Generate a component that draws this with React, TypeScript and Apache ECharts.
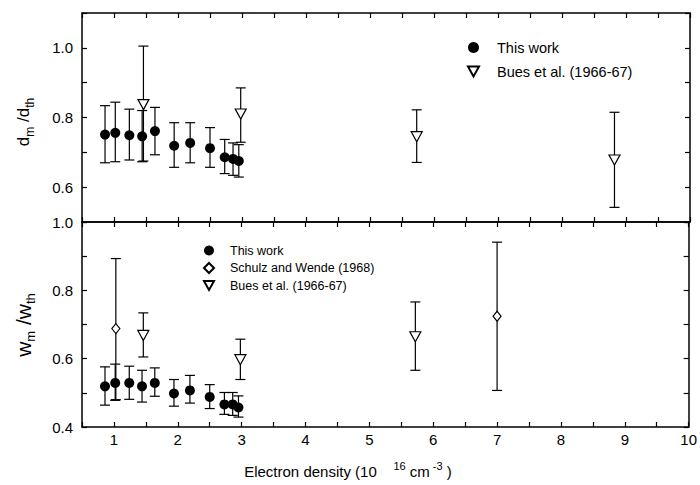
import React, { useEffect, useRef } from "react";
import * as echarts from "echarts";

// ---- data ----
const xThis = [0.86, 1.02, 1.24, 1.44, 1.64, 1.94, 2.19, 2.5, 2.73, 2.86, 2.95];
const dThis = [0.751, 0.756, 0.749, 0.746, 0.761, 0.719, 0.727, 0.712, 0.686, 0.681, 0.675];
const dThisHi = [0.834, 0.844, 0.824, 0.82, 0.829, 0.785, 0.785, 0.771, 0.737, 0.727, 0.722];
const dThisLo = [0.67, 0.673, 0.678, 0.673, 0.693, 0.657, 0.67, 0.657, 0.639, 0.634, 0.629];

const xBuesD = [1.46, 2.98, 5.73, 8.82];
const dBues = [0.837, 0.81, 0.745, 0.678];
const dBuesHi = [1.005, 0.885, 0.822, 0.815];
const dBuesLo = [0.675, 0.729, 0.671, 0.542];

const wThis = [0.519, 0.529, 0.529, 0.519, 0.529, 0.498, 0.507, 0.488, 0.466, 0.466, 0.457];
const wThisHi = [0.576, 0.584, 0.578, 0.566, 0.573, 0.539, 0.551, 0.524, 0.501, 0.501, 0.491];
const wThisLo = [0.464, 0.478, 0.481, 0.473, 0.49, 0.461, 0.47, 0.454, 0.437, 0.434, 0.429];

const xSchulz = [1.03, 7.0];
const wSchulz = [0.688, 0.724];
const wSchulzHi = [0.893, 0.941];
const wSchulzLo = [0.48, 0.507];

const xBuesW = [1.46, 2.98, 5.72];
const wBues = [0.668, 0.597, 0.664];
const wBuesHi = [0.734, 0.657, 0.766];
const wBuesLo = [0.605, 0.539, 0.566];

const NAME_THIS = "This work";
const NAME_BUES = "Bues et al. (1966-67)";
const NAME_SCHULZ = "Schulz and Wende (1968)";

const FONT = "Liberation Sans, Arial, sans-serif";
const DOWN_TRI = "path://M0,0L10,0L5,9Z";

const pts = (xs: number[], ys: number[]) => xs.map((x, i) => [x, ys[i]]);
const errs = (xs: number[], lo: number[], hi: number[]) => xs.map((x, i) => [x, lo[i], hi[i]]);

const errRender = (params: any, api: any) => {
  const x = api.value(0);
  const p1 = api.coord([x, api.value(2)]);
  const p2 = api.coord([x, api.value(1)]);
  const w = 5;
  const style = { stroke: "#000", lineWidth: 1.2 };
  return {
    type: "group",
    children: [
      { type: "line", shape: { x1: p1[0], y1: p1[1], x2: p2[0], y2: p2[1] }, style },
      { type: "line", shape: { x1: p1[0] - w, y1: p1[1], x2: p1[0] + w, y2: p1[1] }, style },
      { type: "line", shape: { x1: p2[0] - w, y1: p2[1], x2: p2[0] + w, y2: p2[1] }, style },
    ],
  };
};

const axisLineStyle = { lineStyle: { color: "#000", width: 1.5 } };
const tick = { inside: true, length: 5, lineStyle: { color: "#000", width: 1.2 } };

const xAx = (grid: number, pos: string, labels: boolean) => ({
  type: "value",
  gridIndex: grid,
  position: pos,
  min: 0.5,
  max: 10,
  interval: 0.5,
  axisLine: { show: true, onZero: false, ...axisLineStyle },
  axisTick: tick,
  splitLine: { show: false },
  axisLabel: {
    show: labels,
    margin: 5,
    color: "#000",
    fontSize: 15,
    fontFamily: FONT,
    formatter: (v: number) => (Math.abs(v - Math.round(v)) < 1e-6 ? String(Math.round(v)) : ""),
  },
});

const yAx = (grid: number, pos: string, min: number, max: number, labels: boolean, shown: number[]) => ({
  type: "value",
  gridIndex: grid,
  position: pos,
  min,
  max,
  interval: 0.1,
  axisLine: { show: true, onZero: false, ...axisLineStyle },
  axisTick: tick,
  splitLine: { show: false },
  axisLabel: {
    show: labels,
    margin: 9,
    color: "#000",
    fontSize: 15,
    fontFamily: FONT,
    formatter: (v: number) => {
      const k = Math.round(v * 10);
      return shown.includes(k) ? (k / 10).toFixed(1) : "";
    },
  },
});

export default function App() {
  const ref = useRef<HTMLDivElement>(null);
  useEffect(() => {
    if (!ref.current) return;
    const chart = echarts.init(ref.current, undefined, { renderer: "svg" });
    const hollow = { color: "#fff", borderColor: "#000", borderWidth: 1.2, opacity: 1 };
    const solid = { color: "#000", opacity: 1 };
    const option: any = {
      animation: false,
      backgroundColor: "#fff",
      textStyle: { fontFamily: FONT },
      grid: [
        { left: 82, width: 608, top: 13, height: 209 },
        { left: 82, width: 608, top: 222, height: 205 },
      ],
      xAxis: [xAx(0, "bottom", false), xAx(0, "top", false), xAx(1, "bottom", true), xAx(1, "top", false)],
      yAxis: [
        yAx(0, "left", 0.5, 1.1, true, [6, 8, 10]),
        yAx(0, "right", 0.5, 1.1, false, []),
        yAx(1, "left", 0.4, 1.0, true, [4, 6, 8, 10]),
        yAx(1, "right", 0.4, 1.0, false, []),
      ],
      legend: [
        {
          orient: "vertical",
          left: 462,
          top: 35,
          itemWidth: 11,
          itemHeight: 11,
          itemGap: 9,
          data: [NAME_THIS, { name: NAME_BUES, icon: DOWN_TRI }],
          textStyle: { fontSize: 14.5, color: "#000", fontFamily: FONT, padding: [0, 0, 0, 13] },
        },
        {
          orient: "vertical",
          left: 198,
          top: 239,
          itemWidth: 10,
          itemHeight: 10,
          itemGap: 4.5,
          data: [NAME_THIS, NAME_SCHULZ, { name: NAME_BUES, icon: DOWN_TRI }],
          textStyle: { fontSize: 12.5, color: "#000", fontFamily: FONT, padding: [0, 0, 0, 11] },
        },
      ],
      graphic: [
        {
          type: "text",
          x: 30,
          y: 122,
          rotation: Math.PI / 2,
          style: {
            text: "{a|d}{s|m}{a| /d}{s|th}",
            align: "center",
            verticalAlign: "middle",
            fill: "#000",
            rich: {
              a: { fontSize: 17, fontFamily: FONT, lineHeight: 18, verticalAlign: "top", fill: "#000" },
              s: { fontSize: 12, fontFamily: FONT, lineHeight: 30, verticalAlign: "middle", fill: "#000" },
            },
          },
        },
        {
          type: "text",
          x: 30,
          y: 325,
          rotation: Math.PI / 2,
          style: {
            text: "{a|w}{s|m}{a| /w}{s|th}",
            align: "center",
            verticalAlign: "middle",
            fill: "#000",
            rich: {
              a: { fontSize: 21, fontFamily: FONT, lineHeight: 22, verticalAlign: "top", fill: "#000" },
              s: { fontSize: 13, fontFamily: FONT, lineHeight: 34, verticalAlign: "middle", fill: "#000" },
            },
          },
        },
        {
          type: "text",
          x: 348,
          y: 467,
          style: {
            text: "{a|Electron density (10}{a|    }{s|16}{a| cm}{s| -3}{a| )}",
            align: "center",
            verticalAlign: "middle",
            fill: "#000",
            rich: {
              a: { fontSize: 15, fontFamily: FONT, lineHeight: 24, verticalAlign: "bottom", fill: "#000" },
              s: { fontSize: 11, fontFamily: FONT, lineHeight: 22, verticalAlign: "top", padding: [5, 0, 0, 0], fill: "#000" },
            },
          },
        },
      ],
      series: [
        { type: "custom", xAxisIndex: 0, yAxisIndex: 0, renderItem: errRender, encode: { x: 0, y: [1, 2] }, data: errs(xThis, dThisLo, dThisHi), z: 1 },
        { type: "custom", xAxisIndex: 0, yAxisIndex: 0, renderItem: errRender, encode: { x: 0, y: [1, 2] }, data: errs(xBuesD, dBuesLo, dBuesHi), z: 1 },
        { type: "custom", xAxisIndex: 2, yAxisIndex: 2, renderItem: errRender, encode: { x: 0, y: [1, 2] }, data: errs(xThis, wThisLo, wThisHi), z: 1 },
        { type: "custom", xAxisIndex: 2, yAxisIndex: 2, renderItem: errRender, encode: { x: 0, y: [1, 2] }, data: errs(xSchulz, wSchulzLo, wSchulzHi), z: 1 },
        { type: "custom", xAxisIndex: 2, yAxisIndex: 2, renderItem: errRender, encode: { x: 0, y: [1, 2] }, data: errs(xBuesW, wBuesLo, wBuesHi), z: 1 },
        { name: NAME_THIS, type: "scatter", xAxisIndex: 0, yAxisIndex: 0, symbol: "circle", symbolSize: 10, itemStyle: solid, data: pts(xThis, dThis), z: 3 },
        { name: NAME_BUES, type: "scatter", xAxisIndex: 0, yAxisIndex: 0, symbol: "triangle", symbolRotate: 180, symbolSize: [11, 10], itemStyle: hollow, data: pts(xBuesD, dBues), z: 3 },
        { name: NAME_THIS, type: "scatter", xAxisIndex: 2, yAxisIndex: 2, symbol: "circle", symbolSize: 10, itemStyle: solid, data: pts(xThis, wThis), z: 3 },
        { name: NAME_SCHULZ, type: "scatter", xAxisIndex: 2, yAxisIndex: 2, symbol: "diamond", symbolSize: [8, 10], itemStyle: hollow, data: pts(xSchulz, wSchulz), z: 3 },
        { name: NAME_BUES, type: "scatter", xAxisIndex: 2, yAxisIndex: 2, symbol: "triangle", symbolRotate: 180, symbolSize: [11, 10], itemStyle: hollow, data: pts(xBuesW, wBues), z: 3 },
      ],
    };
    chart.setOption(option);
    return () => chart.dispose();
  }, []);
  return <div ref={ref} style={{ width: 700, height: 485, position: "absolute", left: 0, top: 0 }} />;
}
